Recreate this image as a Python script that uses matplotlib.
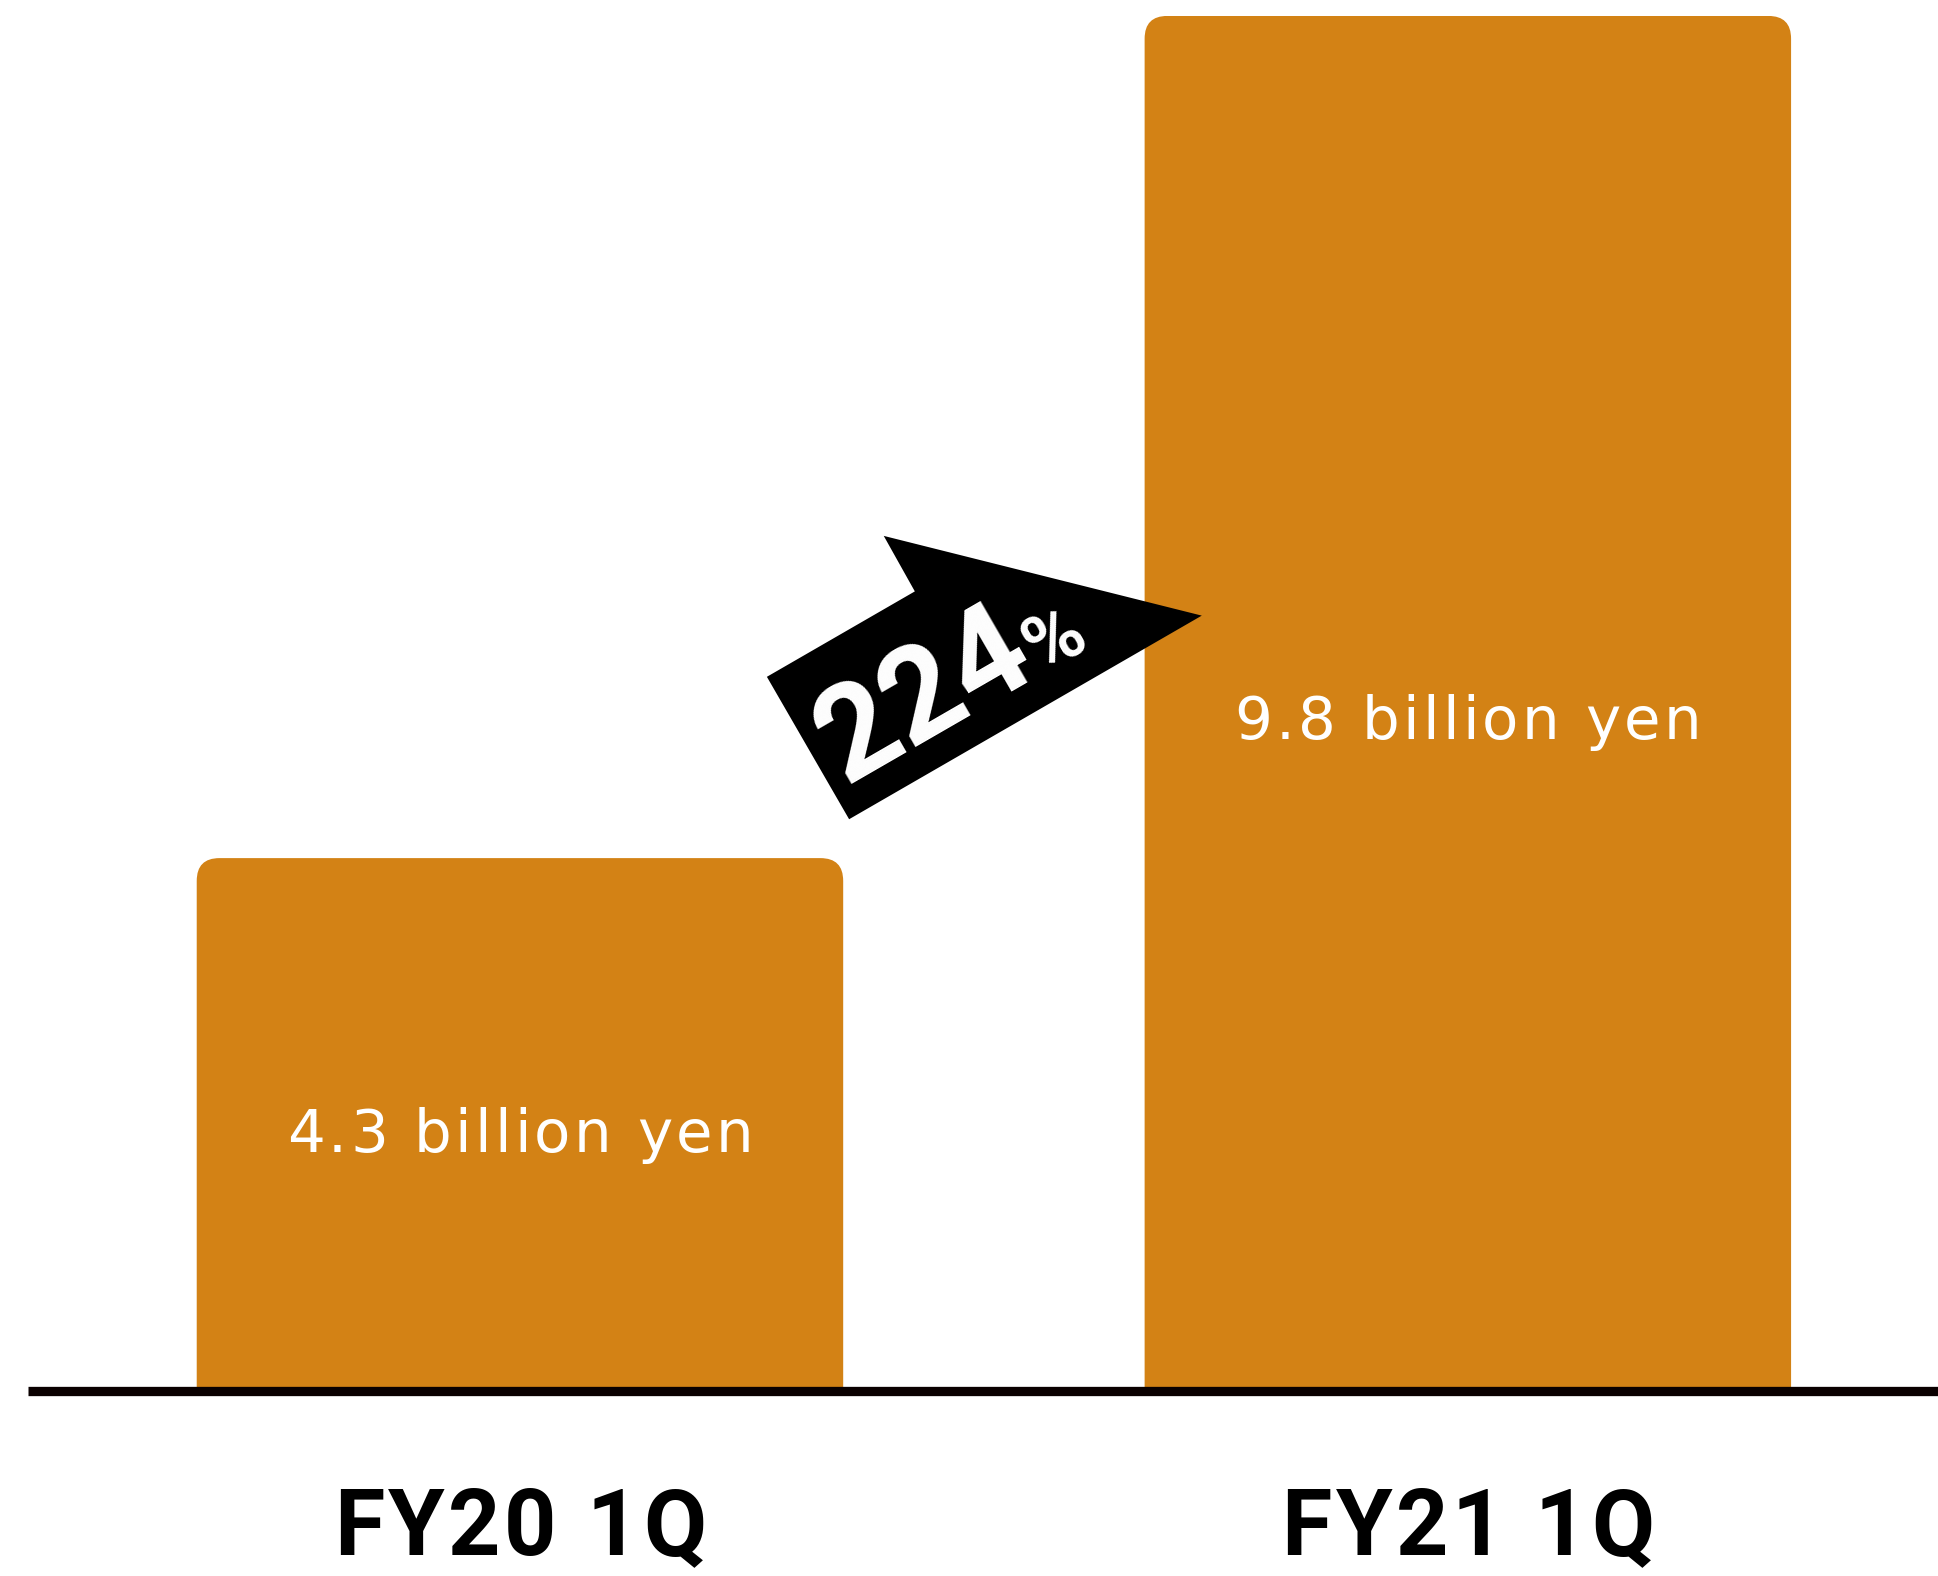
import numpy as np
import matplotlib
matplotlib.use('Agg')
import matplotlib.pyplot as plt
from matplotlib.patches import FancyBboxPatch, Polygon
from matplotlib.transforms import Affine2D, ScaledTranslation
from matplotlib.font_manager import FontProperties, findfont, get_font

# quarterly figures, billion yen
categories = ['FY20 1Q', 'FY21 1Q']
values = [4.3, 9.8]
value_labels = ['4.3 billion yen', '9.8 billion yen']
growth_number = '224'
growth_sign = '%'

y_floor = 0.82
bar_color = '#d38215'


def tracked_text(ax, x, y, s, size, span=None, track=0, dy=0, color='black', **font):
    # lay out characters one by one so the label gets extra letter spacing;
    # with span (points) the spacing is chosen to fill that width
    fp = FontProperties(size=size, **font)
    ft = get_font(findfont(fp))
    ft.set_size(size, 72)
    adv = [ft.load_char(ord(c)).linearHoriAdvance / 65536 for c in s]
    if span is not None:
        track = (span - sum(adv)) / (len(s) - 1)
    pos = -(sum(adv) + track * (len(s) - 1)) / 2
    for c, a in zip(s, adv):
        ax.annotate(c, (x, y), xytext=(pos, dy), textcoords='offset points',
                    ha='left', va='baseline', fontproperties=fp, color=color,
                    annotation_clip=False, zorder=4)
        pos += a + track


fig = plt.figure(figsize=(19.38, 15.76), dpi=100)
ax = fig.add_axes([0.01445, 0.1174, 0.98555, 0.8725])
ax.set_xlim(-0.519, 1.496)
ax.set_ylim(y_floor, 9.8)
ax.set_autoscale_on(False)

x = np.arange(len(categories))
width = 0.682

# rounded tops: keep the corners circular on screen
p0 = ax.transData.transform((0, 0))
p1 = ax.transData.transform((1, 1))
aspect = (p1[0] - p0[0]) / (p1[1] - p0[1])
for xi, v in zip(x, values):
    ax.add_patch(FancyBboxPatch((xi - width / 2, 0), width, v,
                                boxstyle='round,pad=0,rounding_size=0.024',
                                mutation_aspect=aspect, fc=bar_color, ec='none',
                                zorder=2))

for xi, v, lab in zip(x, values, value_labels):
    yc = y_floor + 0.49 * (v - y_floor)
    tracked_text(ax, xi, yc, lab, 42.8, span=336, dy=-15.6, color='white',
                 family='DejaVu Sans')

for xi, cat in zip(x, categories):
    tracked_text(ax, xi, y_floor, cat, 66, track=2.6, dy=-118, color='black',
                 family='Roboto', weight='bold')

# growth arrow, shape in points along its own axis
arrow_pts = [(0, 0), (0, 118.4), (123, 118.4), (123.6, 164.2), (293.2, 0)]
tr = (Affine2D().rotate_deg(30).scale(1 / 72) + fig.dpi_scale_trans
      + ScaledTranslation(0.4299, 0.4158, ax.transAxes))
ax.add_patch(Polygon(arrow_pts, closed=True, transform=tr, fc='black',
                     ec='none', clip_on=False, zorder=3))
ax.text(10, 22.3, growth_number, transform=tr, rotation=30,
        rotation_mode='anchor', ha='left', va='baseline', fontsize=94,
        fontweight='bold', family='Roboto', color='white', zorder=4)
ax.text(172, 22.3, growth_sign, transform=tr, rotation=30,
        rotation_mode='anchor', ha='left', va='baseline', fontsize=56,
        fontweight='bold', family='Roboto', color='white', zorder=4)

for side in ['top', 'left', 'right']:
    ax.spines[side].set_visible(False)
ax.spines['bottom'].set_linewidth(6.7)
ax.spines['bottom'].set_color('#0a0000')
ax.spines['bottom'].set_capstyle('butt')
ax.spines['bottom'].set_zorder(5)
ax.set_xticks([])
ax.set_yticks([])

fig.savefig('out.png', dpi=100)
